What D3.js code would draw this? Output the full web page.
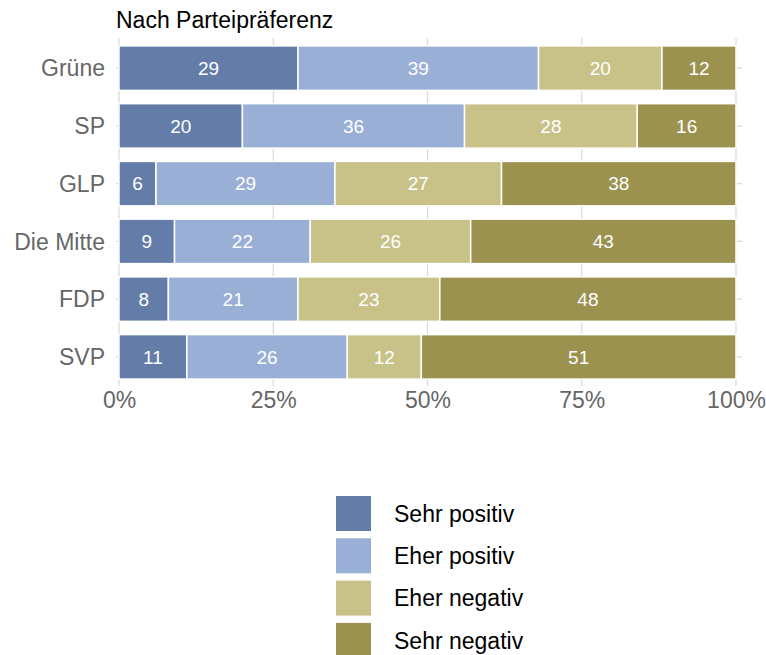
<!DOCTYPE html>
<html><head><meta charset="utf-8">
<script src="https://cdn.jsdelivr.net/npm/d3@7"></script>
<style>body{margin:0;background:#fff}svg{display:block;font-family:"Liberation Sans",Arial,Helvetica,sans-serif}</style>
</head><body>
<script>
const categories = ["Grüne","SP","GLP","Die Mitte","FDP","SVP"];
const seriesNames = ["Sehr positiv","Eher positiv","Eher negativ","Sehr negativ"];
const sehrPositiv = [29,20,6,9,8,11];
const eherPositiv = [39,36,29,22,21,26];
const eherNegativ = [20,28,27,26,23,12];
const sehrNegativ = [12,16,38,43,48,51];
const tickValues = [0,25,50,75,100];
const colors = ["#647ca8","#99afd6","#c8c288","#9b924f"];
const title = "Nach Parteipräferenz";

const W=766,H=655;
const svg=d3.select("body").append("svg").attr("width",W).attr("height",H);
const x=d3.scaleLinear().domain([0,100]).range([119,736]);
const y=d3.scaleBand().domain(categories).range([39,386]).paddingInner(0.23).paddingOuter(0.12);
const series=[sehrPositiv,eherPositiv,eherNegativ,sehrNegativ];
const rows=categories.map((c,i)=>{const o={cat:c};seriesNames.forEach((s,j)=>o[s]=series[j][i]);return o;});
const stacked=d3.stack().keys(seriesNames)(rows);

// gridlines
const g=svg.append("g");
g.selectAll("line.v").data(tickValues).join("line")
 .attr("x1",d=>x(d)).attr("x2",d=>x(d)).attr("y1",38).attr("y2",386)
 .attr("stroke","#d9d9d9").attr("stroke-width",1.2);
g.selectAll("line.h").data(categories).join("line")
 .attr("x1",x(0)-3).attr("x2",x(100)+6).attr("y1",d=>y(d)+y.bandwidth()/2).attr("y2",d=>y(d)+y.bandwidth()/2)
 .attr("stroke","#d9d9d9").attr("stroke-width",1.2);

const layers=svg.append("g").selectAll("g").data(stacked).join("g").attr("fill",(d,i)=>colors[i]);
layers.selectAll("rect").data(d=>d).join("rect")
 .attr("x",d=>x(d[0])).attr("width",d=>x(d[1])-x(d[0]))
 .attr("y",d=>y(d.data.cat)).attr("height",y.bandwidth())
 .attr("stroke","#fff").attr("stroke-width",1.5);
layers.selectAll("text").data(d=>d).join("text")
 .attr("x",d=>(x(d[0])+x(d[1]))/2).attr("y",d=>y(d.data.cat)+y.bandwidth()/2)
 .attr("dy","0.36em").attr("text-anchor","middle").attr("fill","#fff").attr("font-size",19)
 .text(d=>d[1]-d[0]);

// y axis labels
svg.append("g").selectAll("text").data(categories).join("text")
 .attr("x",105).attr("y",d=>y(d)+y.bandwidth()/2).attr("dy","0.36em")
 .attr("text-anchor","end").attr("fill","#666666").attr("font-size",23).text(d=>d);
// x axis
const xa=svg.append("g").attr("transform","translate(0,408)")
 .call(d3.axisBottom(x).tickValues(tickValues).tickFormat(d=>d+"%").tickSize(0).tickPadding(0));
xa.select(".domain").remove();
xa.selectAll("text").attr("fill","#666666").attr("font-size",23).attr("dy","0em").attr("y",0)
 .style("font-family","'Liberation Sans',Arial,sans-serif");

svg.append("text").attr("x",116).attr("y",28).attr("font-size",23).attr("fill","#000").text(title);

// legend
const lg=svg.append("g").selectAll("g").data(seriesNames).join("g")
 .attr("transform",(d,i)=>`translate(336,${496+i*42.3})`);
lg.append("rect").attr("width",35).attr("height",35).attr("fill",(d,i)=>colors[i]);
lg.append("text").attr("x",58).attr("y",17.5).attr("dy","0.36em").attr("font-size",23).attr("fill","#000").text(d=>d);
</script>
</body></html>
